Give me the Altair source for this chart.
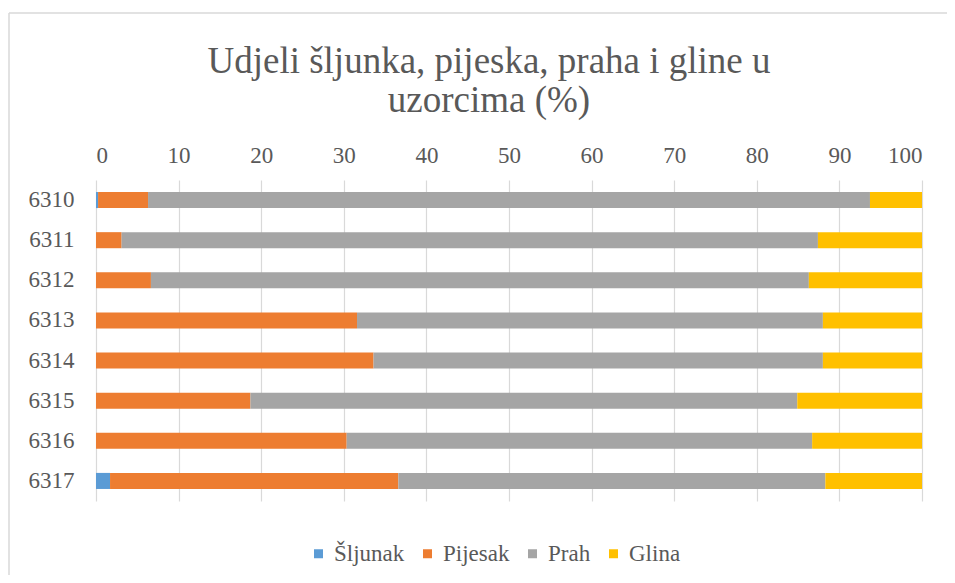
import altair as alt
import pandas as pd

uzorci = ["6310", "6311", "6312", "6313", "6314", "6315", "6316", "6317"]
frakcije = ["Šljunak", "Pijesak", "Prah", "Glina"]
sljunak = [0.25, 0, 0, 0, 0, 0, 0, 1.7]
pijesak = [6.05, 3.1, 6.65, 31.6, 33.6, 18.7, 30.35, 34.9]
prah = [87.4, 84.3, 79.65, 56.4, 54.4, 66.2, 56.35, 51.7]
glina = [6.3, 12.6, 13.7, 12.0, 12.0, 15.1, 13.3, 11.7]
boje = ["#5B9BD5", "#ED7D31", "#A5A5A5", "#FFC000"]
x_ticks = list(range(0, 101, 10))

rows = []
for i, u in enumerate(uzorci):
    for j, (f, vals) in enumerate(zip(frakcije, [sljunak, pijesak, prah, glina])):
        if vals[i] > 0:
            rows.append({"Uzorak": u, "Frakcija": f, "Udio": vals[i], "idx": j})
df = pd.DataFrame(rows)

FONT = "Liberation Serif"
TXT = "#595959"

bars = alt.Chart(df).mark_bar().encode(
    y=alt.Y("Uzorak:N", sort=uzorci,
            scale=alt.Scale(paddingInner=0.6, paddingOuter=0.3),
            axis=alt.Axis(title=None, domain=False, ticks=False, labelPadding=22,
                          labelFont=FONT, labelFontSize=23, labelColor=TXT, grid=False)),
    x=alt.X("Udio:Q", stack="zero",
            scale=alt.Scale(domain=[0, 100], nice=False),
            axis=alt.Axis(orient="top", values=x_ticks, title=None, tickSize=0, domain=False,
                          grid=True, gridColor="#d9d9d9", gridWidth=1.2, labelPadding=13,
                          labelFont=FONT, labelFontSize=23, labelColor=TXT)),
    color=alt.Color("Frakcija:N", title=None,
                    scale=alt.Scale(domain=frakcije, range=boje),
                    legend=alt.Legend(orient="none", direction="horizontal", legendX=211, legendY=362,
                                      symbolType="square", symbolSize=81, symbolStrokeWidth=0,
                                      labelFont=FONT, labelFontSize=23, labelColor=TXT,
                                      labelOffset=4, columnPadding=11, padding=0)),
    order=alt.Order("idx:Q", sort="ascending"),
)

frame_top = alt.Chart(alt.Data(values=[{"a": 1}])).mark_rule(
    color="#d9d9d9", strokeWidth=1.5
).encode(x=alt.value(-87), x2=alt.value(851), y=alt.value(-167))

frame_left = alt.Chart(alt.Data(values=[{"a": 1}])).mark_rule(
    color="#d9d9d9", strokeWidth=1.5
).encode(x=alt.value(-87), y=alt.value(-167), y2=alt.value(395))

chart = alt.layer(frame_top, frame_left, bars).properties(
    width=826,
    height=321,
    padding={"left": 88, "top": 172, "right": 25, "bottom": 74},
    autosize=alt.AutoSizeParams(type="none"),
    title=alt.TitleParams(
        text=["Udjeli šljunka, pijeska, praha i gline u", "uzorcima (%)"],
        font=FONT, fontSize=37, fontWeight="normal", color=TXT,
        lineHeight=39, anchor="middle", dx=-20, offset=-108,
    ),
).configure(
    background="white", font=FONT
).configure_view(
    stroke=None
)

chart.save("out.html", embed_options={"renderer": "svg", "actions": False})
